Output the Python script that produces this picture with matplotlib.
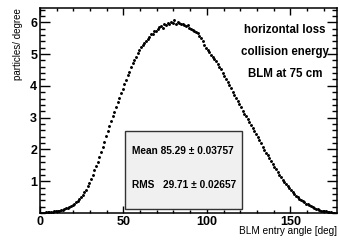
import numpy as np
import matplotlib.pyplot as plt
from matplotlib.ticker import MultipleLocator
from matplotlib.patches import Rectangle

plt.rcParams['font.family'] = ['Liberation Sans', 'DejaVu Sans']
plt.rcParams['font.weight'] = 'bold'

# particles per degree, 1 degree bins starting at 0
counts = [
    0.00, 0.01, 0.01, 0.02, 0.02, 0.03, 0.03, 0.04, 0.05, 0.06,
    0.07, 0.08, 0.09, 0.11, 0.13, 0.15, 0.17, 0.20, 0.23, 0.26,
    0.30, 0.34, 0.39, 0.44, 0.50, 0.57, 0.65, 0.74, 0.84, 0.95,
    1.07, 1.20, 1.34, 1.48, 1.62, 1.77, 1.92, 2.08, 2.25, 2.42,
    2.58, 2.74, 2.90, 3.04, 3.19, 3.33, 3.48, 3.62, 3.76, 3.91,
    4.05, 4.19, 4.33, 4.45, 4.58, 4.71, 4.80, 4.92, 5.04, 5.12,
    5.22, 5.27, 5.36, 5.42, 5.47, 5.55, 5.62, 5.64, 5.72, 5.74,
    5.80, 5.84, 5.87, 5.83, 5.93, 5.90, 5.97, 5.93, 6.02, 5.98,
    6.06, 5.96, 6.01, 5.97, 5.94, 5.96, 5.90, 5.87, 5.91, 5.83,
    5.80, 5.77, 5.72, 5.68, 5.65, 5.58, 5.50, 5.40, 5.30, 5.20,
    5.12, 5.05, 4.98, 4.92, 4.86, 4.78, 4.70, 4.60, 4.52, 4.42,
    4.32, 4.22, 4.12, 4.02, 3.92, 3.82, 3.72, 3.62, 3.52, 3.42,
    3.32, 3.22, 3.13, 3.04, 2.95, 2.86, 2.77, 2.68, 2.59, 2.49,
    2.39, 2.29, 2.19, 2.09, 1.99, 1.90, 1.81, 1.72, 1.63, 1.54,
    1.45, 1.37, 1.28, 1.20, 1.12, 1.05, 0.98, 0.91, 0.84, 0.78,
    0.72, 0.66, 0.60, 0.55, 0.50, 0.45, 0.41, 0.37, 0.34, 0.30,
    0.27, 0.24, 0.21, 0.18, 0.16, 0.14, 0.12, 0.10, 0.08, 0.07,
    0.06, 0.05, 0.04, 0.03, 0.02, 0.01, 0.01,
]
angles = np.arange(len(counts)) + 0.5

labels = ['horizontal loss', 'collision energy', 'BLM at 75 cm']
stats = ['Mean 85.29 \u00b1 0.03757', 'RMS   29.71 \u00b1 0.02657']

fig = plt.figure(figsize=(3.39, 2.41), dpi=100)
ax = fig.add_axes([0.118, 0.116, 0.876, 0.851])
ax.plot(angles, counts, ls='none', marker='o', ms=1.1, color='k')

ax.set_xlim(0, 178)
ax.set_ylim(0, 6.45)
ax.xaxis.set_minor_locator(MultipleLocator(10))
ax.yaxis.set_minor_locator(MultipleLocator(0.2))
ax.set_yticks([1, 2, 3, 4, 5, 6])
ax.set_xticks([0, 50, 100, 150])
ax.tick_params(which='both', direction='in', top=True, right=True, width=1.0,
               labelsize=9, pad=2)
ax.tick_params(axis='x', which='major', length=5)
ax.tick_params(axis='x', which='minor', length=2.5)
ax.tick_params(axis='y', which='major', length=7)
ax.tick_params(axis='y', which='minor', length=3.5)
for s in ax.spines.values():
    s.set_linewidth(1.1)

ax.set_xlabel('BLM entry angle [deg]', fontsize=7.2, loc='right', labelpad=-1)
ax.set_ylabel('particles/ degree', fontsize=7, loc='top', labelpad=5)

for i, t in enumerate(labels):
    fig.text(0.841, 0.876 - i * 0.092, t, ha='center', va='center', fontsize=8.3)

box = Rectangle((125 / 339, 1 - 209 / 241), 117 / 339, 78 / 241,
                transform=fig.transFigure, facecolor='#f0f0f0',
                edgecolor='#333333', lw=1.0)
fig.patches.append(box)
fig.text(132 / 339, 1 - 151 / 241, stats[0], ha='left', va='center', fontsize=7.3)
fig.text(132 / 339, 1 - 185 / 241, stats[1], ha='left', va='center', fontsize=7.3)

fig.savefig('out.png', dpi=100)
